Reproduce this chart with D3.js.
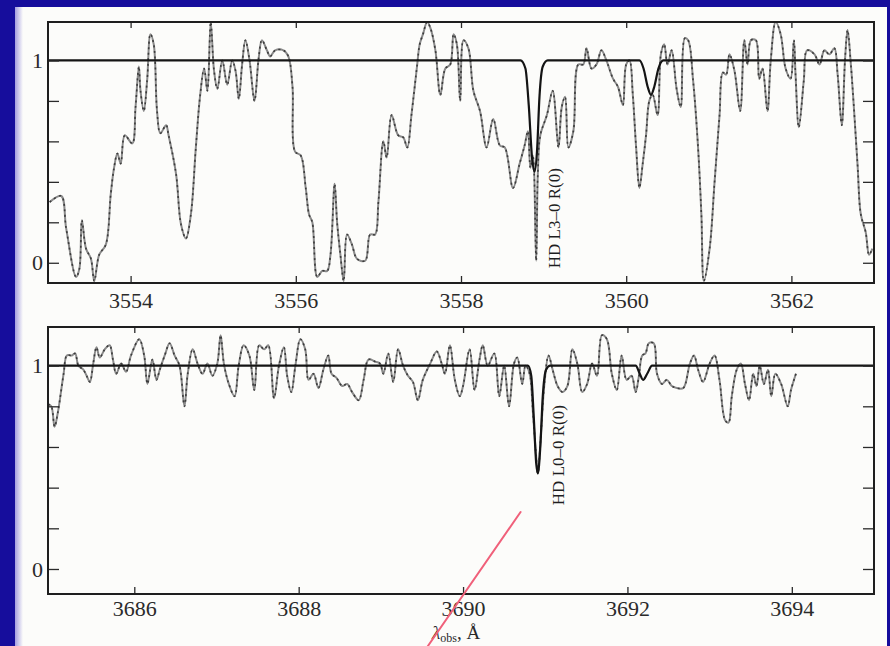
<!DOCTYPE html>
<html>
<head>
<meta charset="utf-8">
<script src="https://cdn.jsdelivr.net/npm/d3@7"></script>
<style>
  html, body { margin: 0; padding: 0; background: #160d9c; }
  svg { display: block; }
</style>
</head>
<body>
<svg id="chart" width="890" height="646"></svg>
<script>
// ---- Observed spectrum, upper window (wavelength Å, normalised flux) ----
const topSpectrum = [
  [3553.02,0.30],[3553.16,0.33],[3553.22,0.17],[3553.34,-0.07],[3553.38,-0.03],[3553.41,0.21],[3553.46,0.07],[3553.52,0.02],
  [3553.56,-0.09],[3553.62,0.04],[3553.70,0.09],[3553.76,0.34],[3553.80,0.47],[3553.84,0.54],[3553.88,0.49],[3553.93,0.63],
  [3554.02,0.59],[3554.06,0.77],[3554.10,0.97],[3554.12,0.85],[3554.16,0.75],[3554.20,0.90],[3554.24,1.13],[3554.28,1.08],
  [3554.32,0.75],[3554.36,0.64],[3554.43,0.68],[3554.46,0.63],[3554.55,0.44],[3554.61,0.19],[3554.67,0.12],[3554.73,0.24],
  [3554.79,0.57],[3554.84,0.82],[3554.89,0.96],[3554.93,0.85],[3554.97,1.19],[3555.01,0.95],[3555.05,0.86],[3555.11,1.00],
  [3555.17,0.88],[3555.23,1.00],[3555.27,0.95],[3555.31,0.81],[3555.35,0.98],[3555.39,1.10],[3555.44,1.00],[3555.50,0.80],
  [3555.55,1.01],[3555.59,1.10],[3555.65,1.05],[3555.69,1.02],[3555.75,1.05],[3555.85,1.05],[3555.91,1.02],[3555.96,0.87],
  [3555.99,0.55],[3556.06,0.53],[3556.12,0.37],[3556.16,0.24],[3556.20,0.20],[3556.26,-0.07],[3556.32,-0.04],[3556.38,-0.04],
  [3556.42,0.04],[3556.47,0.39],[3556.50,0.20],[3556.54,0.04],[3556.58,-0.09],[3556.62,0.14],[3556.68,0.09],[3556.74,0.02],
  [3556.84,0.01],[3556.90,0.14],[3556.96,0.14],[3557.00,0.30],[3557.06,0.60],[3557.10,0.52],[3557.16,0.73],[3557.24,0.63],
  [3557.30,0.62],[3557.35,0.57],[3557.40,0.73],[3557.47,0.98],[3557.50,1.08],[3557.54,1.13],[3557.59,1.19],[3557.63,1.16],
  [3557.69,1.05],[3557.75,0.83],[3557.81,0.96],[3557.87,0.98],[3557.91,1.13],[3557.95,1.08],[3557.99,0.80],[3558.03,1.10],
  [3558.09,1.06],[3558.15,0.85],[3558.23,0.75],[3558.31,0.57],[3558.39,0.71],[3558.47,0.58],[3558.53,0.57],[3558.63,0.37],
  [3558.71,0.49],[3558.77,0.58],[3558.81,0.65],[3558.84,0.47],[3558.87,0.53],[3558.91,0.01],[3558.93,0.44],[3558.96,0.63],
  [3559.04,0.73],[3559.11,0.85],[3559.18,0.57],[3559.22,0.77],[3559.26,0.82],[3559.30,0.57],[3559.36,0.65],[3559.42,0.98],
  [3559.48,0.98],[3559.52,1.06],[3559.58,0.96],[3559.64,0.98],[3559.70,1.05],[3559.76,1.00],[3559.84,0.91],[3559.90,0.87],
  [3559.96,0.78],[3560.00,0.98],[3560.04,1.00],[3560.08,0.83],[3560.12,0.57],[3560.16,0.37],[3560.20,0.49],[3560.24,0.63],
  [3560.28,0.80],[3560.32,0.83],[3560.38,0.73],[3560.42,1.03],[3560.46,1.08],[3560.50,0.98],[3560.55,1.05],[3560.61,0.86],
  [3560.66,0.77],[3560.71,1.11],[3560.75,1.10],[3560.81,0.90],[3560.87,0.57],[3560.91,0.24],[3560.94,-0.09],[3561.01,0.07],
  [3561.07,0.40],[3561.13,0.73],[3561.17,0.94],[3561.21,0.93],[3561.25,1.03],[3561.31,0.95],[3561.38,0.75],[3561.43,1.10],
  [3561.47,0.98],[3561.51,1.10],[3561.57,1.10],[3561.61,0.91],[3561.65,0.96],[3561.71,0.75],[3561.75,1.00],[3561.81,1.19],
  [3561.87,1.13],[3561.93,0.96],[3561.99,0.91],[3562.03,1.10],[3562.05,0.93],[3562.09,0.67],[3562.15,0.90],[3562.19,1.05],
  [3562.28,1.03],[3562.34,0.98],[3562.40,1.05],[3562.46,1.03],[3562.52,1.06],[3562.56,0.93],[3562.61,0.68],[3562.65,1.01],
  [3562.68,1.15],[3562.72,0.98],[3562.80,0.49],[3562.84,0.24],[3562.90,0.15],[3562.94,0.04],[3562.98,0.07]
];

// ---- Synthetic HD profile, upper window ----
const topModel = [
  [3553.00,1],[3558.72,1],[3558.78,0.96],[3558.82,0.78],[3558.86,0.52],[3558.89,0.45],[3558.92,0.55],
  [3558.95,0.82],[3558.99,0.97],[3559.05,1],[3560.16,1],[3560.21,0.96],[3560.26,0.87],[3560.30,0.83],
  [3560.34,0.87],[3560.39,0.96],[3560.45,1],[3563.00,1]
];

// ---- Observed spectrum, lower window ----
const botSpectrum = [
  [3684.95,0.81],[3684.99,0.80],[3685.03,0.70],[3685.07,0.77],[3685.14,0.96],[3685.18,1.05],[3685.24,1.05],[3685.28,1.06],
  [3685.32,1.00],[3685.38,0.98],[3685.42,0.95],[3685.46,0.92],[3685.50,1.01],[3685.54,1.09],[3685.58,1.04],[3685.64,1.08],
  [3685.70,1.10],[3685.74,1.03],[3685.78,0.96],[3685.84,1.01],[3685.90,0.97],[3685.96,1.05],[3686.06,1.13],[3686.12,1.05],
  [3686.16,0.91],[3686.22,1.03],[3686.27,0.93],[3686.31,0.98],[3686.37,1.05],[3686.43,1.11],[3686.49,1.05],[3686.55,1.00],
  [3686.61,0.80],[3686.65,0.96],[3686.71,1.08],[3686.77,1.01],[3686.83,0.96],[3686.89,1.01],[3686.95,0.95],[3687.01,1.01],
  [3687.05,1.15],[3687.09,1.01],[3687.15,0.91],[3687.22,0.85],[3687.27,1.00],[3687.33,1.10],[3687.40,1.05],[3687.46,0.88],
  [3687.52,1.10],[3687.58,1.08],[3687.63,1.10],[3687.70,0.84],[3687.76,1.00],[3687.82,1.09],[3687.86,0.95],[3687.91,0.87],
  [3687.96,1.00],[3688.02,1.13],[3688.08,1.08],[3688.12,0.93],[3688.18,0.96],[3688.24,0.89],[3688.30,0.98],[3688.36,1.05],
  [3688.40,0.96],[3688.46,0.94],[3688.53,0.90],[3688.59,0.91],[3688.65,0.87],[3688.73,0.83],[3688.79,0.93],[3688.85,1.03],
  [3688.93,1.02],[3688.99,1.01],[3689.03,0.96],[3689.09,1.06],[3689.15,0.92],[3689.21,1.08],[3689.27,1.00],[3689.33,0.95],
  [3689.39,0.92],[3689.45,0.83],[3689.51,0.93],[3689.60,1.01],[3689.68,1.07],[3689.74,1.01],[3689.78,0.96],[3689.84,1.10],
  [3689.90,0.93],[3689.96,0.85],[3690.00,0.90],[3690.08,1.08],[3690.14,0.88],[3690.20,1.03],[3690.24,1.10],[3690.30,1.00],
  [3690.38,1.06],[3690.44,0.85],[3690.50,1.00],[3690.56,0.80],[3690.62,1.01],[3690.66,1.04],[3690.72,0.91],[3690.76,1.00],
  [3690.81,0.96],[3690.85,0.77],[3690.89,0.55],[3690.91,0.47],[3690.95,0.68],[3690.99,0.91],[3691.04,1.05],[3691.09,0.98],
  [3691.15,0.90],[3691.21,0.87],[3691.27,0.90],[3691.33,1.08],[3691.39,1.01],[3691.45,0.87],[3691.51,0.91],[3691.57,1.01],
  [3691.63,0.95],[3691.69,1.15],[3691.75,1.13],[3691.81,0.96],[3691.87,0.88],[3691.93,1.05],[3691.99,0.93],[3692.05,0.95],
  [3692.10,0.87],[3692.14,0.95],[3692.18,1.05],[3692.22,1.06],[3692.26,1.11],[3692.32,1.11],[3692.36,0.96],[3692.42,0.91],
  [3692.48,0.93],[3692.54,0.90],[3692.60,0.89],[3692.68,0.89],[3692.76,1.01],[3692.81,1.05],[3692.86,0.98],[3692.92,0.92],
  [3693.00,1.01],[3693.06,1.05],[3693.12,0.93],[3693.19,0.73],[3693.23,0.72],[3693.27,0.85],[3693.33,0.98],[3693.38,1.01],
  [3693.43,0.91],[3693.48,0.83],[3693.53,0.96],[3693.57,0.90],[3693.61,1.00],[3693.66,0.91],[3693.71,0.98],[3693.75,0.85],
  [3693.80,0.96],[3693.87,0.91],[3693.95,0.80],[3693.99,0.88],[3694.05,0.96]
];

// ---- Synthetic HD profile, lower window ----
const botModel = [
  [3684.95,1],[3690.79,1],[3690.83,0.95],[3690.86,0.75],[3690.89,0.52],[3690.91,0.47],[3690.94,0.60],
  [3690.97,0.85],[3691.01,0.98],[3691.06,1],[3692.10,1],[3692.15,0.96],[3692.19,0.93],[3692.24,0.96],
  [3692.30,1],[3695.00,1]
];

// ---- Axes: tick values and labels ----
const topTicks = [3554, 3556, 3558, 3560, 3562];
const botTicks = [3686, 3688, 3690, 3692, 3694];
const fluxTicks = [0, 0.2, 0.4, 0.6, 0.8, 1];
const fluxLabels = [0, 1];

// ---- Line identifications: [wavelength, flux, text] ----
const topLine = [3559.13, 0.22, "HD L3\u20130 R(0)"];
const botLine = [3691.15, 0.56, "HD L0\u20130 R(0)"];

// Pointer stroke across the lower window, [wavelength, flux] ends
const pointer = [[3690.70, 0.28], [3689.57, -0.38]];

const svg = d3.select("#chart");
const W = 890, H = 646;
const SERIF = "'Liberation Serif', 'Times New Roman', serif";

// Slide backdrop: blue border with a white content area
const defs = svg.append("defs");
const edge = defs.append("linearGradient").attr("id", "edgeFade").attr("x1", 0).attr("x2", 1);
edge.append("stop").attr("offset", 0).attr("stop-color", "#a59ee0");
edge.append("stop").attr("offset", 1).attr("stop-color", "#fcfcfa");
svg.append("rect").attr("width", W).attr("height", H).attr("fill", "#160d9c");
svg.append("rect").attr("x", 15).attr("y", 7).attr("width", 872).attr("height", H - 7).attr("fill", "#fcfcfa");
svg.append("rect").attr("x", 15).attr("y", 7).attr("width", 8).attr("height", H - 7).attr("fill", "url(#edgeFade)");

const L = 48, R = 874;

const panels = [
  { id: "upper", xDomain: [3553, 3563], yDomain: [-0.1, 1.19], top: 22, bottom: 283,
    ticks: topTicks, spectrum: topSpectrum, model: topModel, ident: topLine, pad: 9 },
  { id: "lower", xDomain: [3684.95, 3695], yDomain: [-0.123, 1.19], top: 327, bottom: 594,
    ticks: botTicks, spectrum: botSpectrum, model: botModel, ident: botLine, pad: 6.5 }
];

const scales = {};

panels.forEach(p => {
  const x = d3.scaleLinear().domain(p.xDomain).range([L, R]);
  const y = d3.scaleLinear().domain(p.yDomain).range([p.bottom, p.top]);
  scales[p.id] = { x, y };

  defs.append("clipPath").attr("id", "clip-" + p.id)
    .append("rect").attr("x", L).attr("y", p.top).attr("width", R - L).attr("height", p.bottom - p.top);

  const g = svg.append("g");
  const plot = g.append("g").attr("clip-path", "url(#clip-" + p.id + ")");

  const specLine = d3.line().x(d => x(d[0])).y(d => y(d[1])).curve(d3.curveCatmullRom.alpha(0.5));
  // spectrum: grey trace with darker pixel dashes along it
  plot.append("path").datum(p.spectrum).attr("d", specLine)
    .attr("fill", "none").attr("stroke", "#8a8a8a").attr("stroke-width", 2).attr("stroke-linejoin", "round");
  plot.append("path").datum(p.spectrum).attr("d", specLine)
    .attr("fill", "none").attr("stroke", "#3c3c3c").attr("stroke-width", 1.6)
    .attr("stroke-dasharray", "2,3.5");

  const modelLine = d3.line().x(d => x(d[0])).y(d => y(d[1])).curve(d3.curveMonotoneX);
  plot.append("path").datum(p.model).attr("d", modelLine)
    .attr("fill", "none").attr("stroke", "#141414").attr("stroke-width", 2.2);

  // axes with inward ticks on all four sides
  const styleAxis = sel => {
    sel.select(".domain").remove();
    sel.selectAll(".tick line").attr("stroke", "#2a2a2a").attr("stroke-width", 1.3);
    sel.selectAll("text").attr("font-family", SERIF).attr("font-size", 22).attr("fill", "#2a2a2a");
  };
  g.append("g").attr("transform", `translate(0,${p.bottom})`)
    .call(d3.axisBottom(x).tickValues(p.ticks).tickSize(-7).tickPadding(p.pad).tickFormat(d3.format("d")))
    .call(styleAxis);
  g.append("g").attr("transform", `translate(0,${p.top})`)
    .call(d3.axisTop(x).tickValues(p.ticks).tickSize(-6).tickFormat(""))
    .call(styleAxis);
  g.append("g").attr("transform", `translate(${L},0)`)
    .call(d3.axisLeft(y).tickValues(fluxTicks).tickSize(-11).tickPadding(5)
      .tickFormat(d => fluxLabels.includes(d) ? d3.format("d")(d) : ""))
    .call(styleAxis);
  g.append("g").attr("transform", `translate(${R},0)`)
    .call(d3.axisRight(y).tickValues(fluxTicks).tickSize(-11).tickFormat(""))
    .call(styleAxis);

  // frame
  g.append("rect").attr("x", L).attr("y", p.top).attr("width", R - L).attr("height", p.bottom - p.top)
    .attr("fill", "none").attr("stroke", "#1e1e1e").attr("stroke-width", 2);

  // transition label, read upward
  const [lw, lf, lt] = p.ident;
  g.append("text")
    .attr("transform", `translate(${x(lw)},${y(lf)}) rotate(-90)`)
    .attr("text-anchor", "middle").attr("dy", "0.35em")
    .attr("font-family", SERIF).attr("font-size", 17).attr("fill", "#1e1e1e")
    .text(lt);
});

// wavelength axis title
const title = svg.append("text").attr("x", 432).attr("y", 639)
  .attr("font-family", SERIF).attr("font-size", 19).attr("fill", "#2a2a2a");
title.append("tspan").attr("font-style", "italic").text("\u03bb");
title.append("tspan").attr("font-size", 12).attr("dy", 3).text("obs");
title.append("tspan").attr("dy", -3).text(", \u00c5");

// pointer stroke
const sx = scales.lower.x, sy = scales.lower.y;
svg.append("line")
  .attr("x1", sx(pointer[0][0])).attr("y1", sy(pointer[0][1]))
  .attr("x2", sx(pointer[1][0])).attr("y2", sy(pointer[1][1]))
  .attr("stroke", "#f0607a").attr("stroke-width", 2).attr("stroke-linecap", "round");
</script>
</body>
</html>
